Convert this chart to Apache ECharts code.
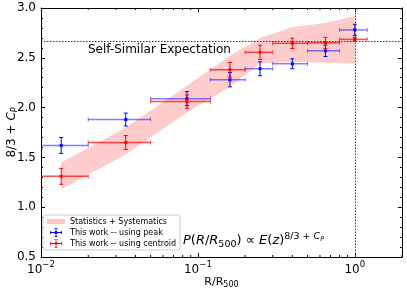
<!DOCTYPE html>
<html><head><meta charset="utf-8">
<script src="https://cdn.jsdelivr.net/npm/echarts@6/dist/echarts.min.js"></script>
<style>html,body{margin:0;padding:0;background:#fff}#c{width:407px;height:291px}</style>
</head><body><div id="c"></div><script>
// ---- data ----
const xCenters = [0.01345, 0.0347, 0.0851, 0.16, 0.249, 0.40, 0.65, 1.0];
const binLow   = [0, 0.02, 0.05, 0.12, 0.20, 0.30, 0.50, 0.80];
const binHigh  = [0.02, 0.05, 0.12, 0.20, 0.30, 0.50, 0.80, 1.20];
const peakY    = [1.62, 1.88, 2.09, 2.28, 2.39, 2.44, 2.57, 2.78];
const peakErr  = [0.08, 0.065, 0.07, 0.072, 0.07, 0.05, 0.057, 0.057];
const centY    = [1.31, 1.65, 2.06, 2.38, 2.555, 2.645, 2.65, 2.685];
const centErr  = [0.08, 0.07, 0.067, 0.073, 0.072, 0.052, 0.055, 0.02];
const bandX    = [0.01345, 0.0347, 0.0851, 0.16, 0.249, 0.40, 0.65, 1.0];
const bandLow  = [1.18, 1.53, 1.95, 2.21, 2.44, 2.46, 2.45, 2.44];
const bandHigh = [1.45, 1.80, 2.22, 2.52, 2.70, 2.81, 2.85, 2.92];
const selfSimilar = 8 / 3;
const xMinorTicks = [0.02,0.03,0.04,0.05,0.06,0.07,0.08,0.09,0.2,0.3,0.4,0.5,0.6,0.7,0.8,0.9,2];
const xMin = 0.01, xMax = 2, yMin = 0.5, yMax = 3.0, yStep = 0.5;
const legendNames = ['Statistics + Systematics', 'This work -- using peak', 'This work -- using centroid'];

const FONT = 'DejaVu Sans';
const chart = echarts.init(document.getElementById('c'), null, {renderer: 'canvas'});

function ebData(ys, errs) {
  return xCenters.map((x, i) => [x, ys[i], binLow[i], binHigh[i], errs[i]]);
}
function makeErrRender(solid, light) {
  return function (params, api) {
    const x = api.value(0), y = api.value(1), lo = api.value(2), hi = api.value(3), e = api.value(4);
    const cs = params.coordSys;
    const c = api.coord([x, y]);
    const lx = lo > 0 ? Math.max(api.coord([lo, y])[0], cs.x) : cs.x;
    const rx = api.coord([hi, y])[0];
    const ty = api.coord([x, y + e])[1];
    const by = api.coord([x, y - e])[1];
    const cap = 2;
    const children = [
      {type: 'line', shape: {x1: lx, y1: c[1], x2: rx, y2: c[1]}, style: {stroke: light, lineWidth: 1.5}},
      {type: 'line', shape: {x1: rx, y1: c[1] - cap, x2: rx, y2: c[1] + cap}, style: {stroke: light, lineWidth: 1}},
      {type: 'line', shape: {x1: c[0], y1: ty, x2: c[0], y2: by}, style: {stroke: solid, lineWidth: 1}},
      {type: 'line', shape: {x1: c[0] - cap, y1: ty, x2: c[0] + cap, y2: ty}, style: {stroke: solid, lineWidth: 1}},
      {type: 'line', shape: {x1: c[0] - cap, y1: by, x2: c[0] + cap, y2: by}, style: {stroke: solid, lineWidth: 1}},
      {type: 'rect', shape: {x: c[0] - 1.5, y: c[1] - 1.5, width: 3, height: 3}, style: {fill: solid}}
    ];
    if (lo > 0 && api.coord([lo, y])[0] >= cs.x) {
      children.push({type: 'line', shape: {x1: lx, y1: c[1] - cap, x2: lx, y2: c[1] + cap}, style: {stroke: light, lineWidth: 1}});
    }
    return {type: 'group', children: children};
  };
}

const corner = 'M0,0h0.01v0.01h-0.01Z M17.99,8.99h0.01v0.01h-0.01Z ';
const rectIcon = 'path://' + corner + 'M0,2h18v5h-18Z';
const ebIcon = 'path://' + corner +
  'M3,4.1h12v0.8h-12Z M3,3h0.8v3h-0.8Z M14.2,3h0.8v3h-0.8Z ' +
  'M8.6,0.3h0.8v8.4h-0.8Z M7.5,0.3h3v0.8h-3Z M7.5,7.9h3v0.8h-3Z M7.8,3.3h2.4v2.4h-2.4Z';

function xLabel(v) {
  const l = Math.log10(v);
  const e = Math.round(l);
  if (Math.abs(l - e) > 1e-6) return '';
  return '{b|10}{s|' + (e < 0 ? '\u2212' + (-e) : String(e)) + '}';
}

const axisCommon = {
  axisLine: {show: true, lineStyle: {color: '#000', width: 1}},
  splitLine: {show: false}
};

const option = {
  animation: false,
  backgroundColor: '#fff',
  textStyle: {fontFamily: FONT},
  grid: {left: 41, right: 5, top: 8, bottom: 34, containLabel: false, outerBoundsMode: 'none'},
  xAxis: [
    Object.assign({}, axisCommon, {
      type: 'log', logBase: 10, min: xMin, max: xMax, position: 'bottom',
      axisTick: {show: true, inside: true, length: 4, lineStyle: {color: '#000'}},
      axisLabel: {show: true, margin: 3, formatter: xLabel, color: '#000', fontFamily: FONT,
        showMinLabel: true, showMaxLabel: true,
        rich: {b: {fontSize: 12, fontFamily: FONT, lineHeight: 16, verticalAlign: 'bottom', color: '#000'},
               s: {fontSize: 8.5, fontFamily: FONT, lineHeight: 10, verticalAlign: 'top', color: '#000'}}},
      name: 'R/R{s|500}', nameLocation: 'middle', nameGap: 18, nameMoveOverlap: false,
      nameTextStyle: {fontSize: 11, fontFamily: FONT, color: '#000', lineHeight: 14,
        rich: {s: {fontSize: 8, fontFamily: FONT, verticalAlign: 'bottom', lineHeight: 9, color: '#000'}}}
    }),
    Object.assign({}, axisCommon, {
      type: 'log', logBase: 10, min: xMin, max: xMax, position: 'top',
      axisTick: {show: true, inside: true, length: 4, lineStyle: {color: '#000'}},
      axisLabel: {show: false}
    })
  ],
  yAxis: [
    Object.assign({}, axisCommon, {
      type: 'value', min: yMin, max: yMax, interval: yStep, position: 'left',
      axisTick: {show: true, inside: true, length: 4, lineStyle: {color: '#000'}},
      minorTick: {show: true, splitNumber: 5, length: 2, lineStyle: {color: '#000'}},
      axisLabel: {show: true, margin: 5, fontSize: 12, color: '#000', fontFamily: FONT,
        formatter: v => v.toFixed(1)},
      name: '{n|8/3 + }{c|C}{p|P}', nameLocation: 'middle', nameGap: 22, nameMoveOverlap: false,
      nameTextStyle: {color: '#000', fontFamily: FONT,
        rich: {n: {fontSize: 12, fontFamily: FONT, lineHeight: 15, verticalAlign: 'middle', color: '#000'},
               c: {fontSize: 12, fontFamily: FONT, fontStyle: 'italic', lineHeight: 15, verticalAlign: 'middle', color: '#000'},
               p: {fontSize: 8, fontFamily: FONT, fontStyle: 'italic', lineHeight: 9, verticalAlign: 'bottom', color: '#000'}}}
    }),
    Object.assign({}, axisCommon, {
      type: 'value', min: yMin, max: yMax, interval: yStep, position: 'right',
      axisTick: {show: true, inside: true, length: 4, lineStyle: {color: '#000'}},
      minorTick: {show: true, splitNumber: 5, length: 2, lineStyle: {color: '#000'}},
      axisLabel: {show: false}
    })
  ],
  legend: {
    orient: 'vertical', left: 43, top: 215, padding: [2, 4, 2, 4],
    itemWidth: 18, itemHeight: 9, itemGap: 2,
    backgroundColor: 'rgba(255,255,255,0.8)', borderColor: '#cccccc', borderWidth: 1, borderRadius: 3,
    textStyle: {fontSize: 8, fontFamily: FONT, color: '#000'},
    selectedMode: false,
    data: [
      {name: legendNames[0], icon: rectIcon, itemStyle: {color: 'rgba(255,0,0,0.22)'}},
      {name: legendNames[1], icon: ebIcon, itemStyle: {color: '#0000ff'}},
      {name: legendNames[2], icon: ebIcon, itemStyle: {color: '#ff0000'}}
    ]
  },
  graphic: [
    {type: 'text', left: 88, top: 44, z: 10,
      style: {text: 'Self-Similar Expectation', fontSize: 12, fontFamily: FONT, fill: '#000'}},
    {type: 'text', left: 183, top: 232, z: 10,
      style: {
        text: '{i|P}{n|(}{i|R}{n|/}{i|R}{s|500}{n|) \u221d }{i|E}{n|(}{i|z}{n|)}{p|8/3 + }{pi|C}{ps|P}',
        fill: '#000', fontFamily: FONT,
        rich: {
          i: {fontSize: 13, fontStyle: 'italic', fontFamily: FONT, lineHeight: 18, verticalAlign: 'middle', fill: '#000'},
          n: {fontSize: 13, fontFamily: FONT, lineHeight: 18, verticalAlign: 'middle', fill: '#000'},
          s: {fontSize: 9.5, fontFamily: FONT, lineHeight: 9, verticalAlign: 'bottom', fill: '#000'},
          p: {fontSize: 9.5, fontFamily: FONT, lineHeight: 9, verticalAlign: 'top', fill: '#000'},
          pi: {fontSize: 9.5, fontStyle: 'italic', fontFamily: FONT, lineHeight: 9, verticalAlign: 'top', fill: '#000'},
          ps: {fontSize: 6.5, fontStyle: 'italic', fontFamily: FONT, lineHeight: 6, verticalAlign: 'top', padding: [4, 0, 0, 0], fill: '#000'}
        }
      }}
  ],
  series: [
    {
      name: legendNames[0], type: 'custom', xAxisIndex: 0, yAxisIndex: 0, z: 1, silent: true,
      itemStyle: {color: 'rgba(255,0,0,0.22)'},
      data: [[bandX[0], bandLow[0]]],
      renderItem: function (params, api) {
        const pts = bandX.map((x, i) => api.coord([x, bandHigh[i]]));
        for (let i = bandX.length - 1; i >= 0; i--) pts.push(api.coord([bandX[i], bandLow[i]]));
        return {type: 'polygon', shape: {points: pts}, style: {fill: 'rgba(255,0,0,0.2)'}};
      },
      markLine: {
        silent: true, symbol: 'none', label: {show: false},
        lineStyle: {type: [1.5, 1.5], color: '#333', width: 1},
        data: [{yAxis: selfSimilar}, {xAxis: 1}]
      }
    },
    {
      name: 'minor-x-ticks', type: 'custom', xAxisIndex: 0, yAxisIndex: 0, z: 5, silent: true, clip: false,
      data: xMinorTicks.map(v => [v, yMin]),
      renderItem: function (params, api) {
        const cs = params.coordSys;
        const px = api.coord([api.value(0), yMin])[0];
        const b = cs.y + cs.height, t = cs.y;
        return {type: 'group', children: [
          {type: 'line', shape: {x1: px, y1: b, x2: px, y2: b - 2}, style: {stroke: '#000', lineWidth: 1}},
          {type: 'line', shape: {x1: px, y1: t, x2: px, y2: t + 2}, style: {stroke: '#000', lineWidth: 1}}
        ]};
      }
    },
    {
      name: legendNames[1], type: 'custom', xAxisIndex: 0, yAxisIndex: 0, z: 3, clip: true,
      itemStyle: {color: '#0000ff'},
      data: ebData(peakY, peakErr),
      encode: {x: 0, y: 1},
      renderItem: makeErrRender('#0000ff', 'rgba(0,0,255,0.5)')
    },
    {
      name: legendNames[2], type: 'custom', xAxisIndex: 0, yAxisIndex: 0, z: 4, clip: true,
      itemStyle: {color: '#ff0000'},
      data: ebData(centY, centErr),
      encode: {x: 0, y: 1},
      renderItem: makeErrRender('#ff0000', 'rgba(255,0,0,0.7)')
    }
  ]
};
chart.setOption(option);
</script></body></html>
